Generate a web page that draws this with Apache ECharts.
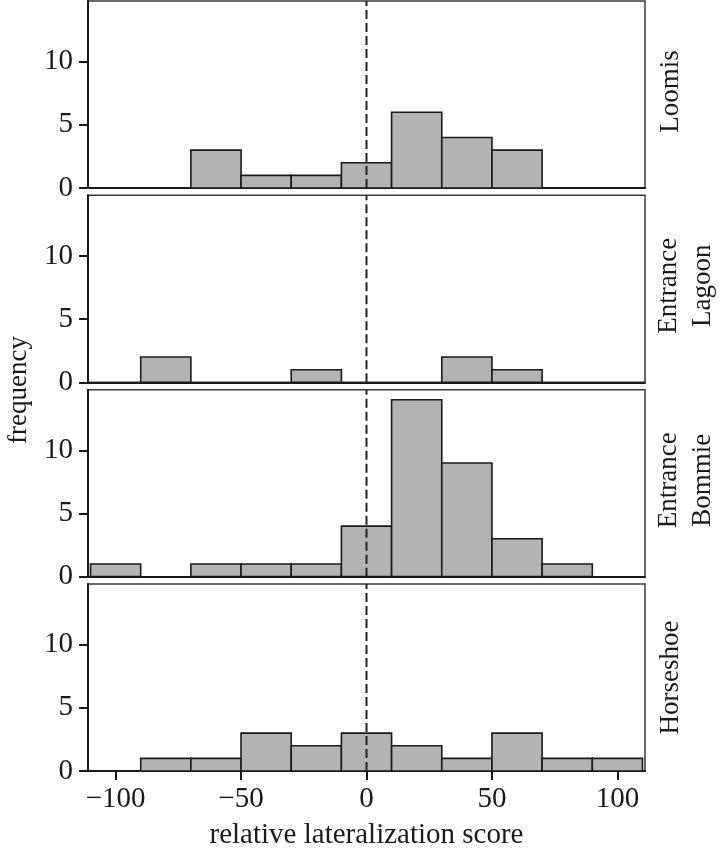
<!DOCTYPE html>
<html><head><meta charset="utf-8">
<script src="https://cdn.jsdelivr.net/npm/echarts@6/dist/echarts.min.js"></script>
<style>html,body{margin:0;padding:0;background:#fff}#c{width:722px;height:856px}</style>
</head><body><div id="c"></div>
<script>
// bins of width 20 starting at these edges
const binStarts = [-110, -90, -70, -50, -30, -10, 10, 30, 50, 70, 90];
const binWidth = 20;
const siteNames = ['Loomis', 'Entrance\nLagoon', 'Entrance\nBommie', 'Horseshoe'];
const loomis         = [0, 0, 3, 1, 1, 2, 6, 4, 3, 0, 0];
const entranceLagoon = [0, 2, 0, 0, 1, 0, 0, 2, 1, 0, 0];
const entranceBommie = [1, 0, 1, 1, 1, 4, 14, 9, 3, 1, 0];
const horseshoe      = [0, 1, 1, 3, 2, 3, 2, 1, 3, 1, 1];
const xTicks = [-100, -50, 0, 50, 100];
const yTicks = [0, 5, 10];
const xMin = -111, xMax = 111, yMax = 14.8;
const refLine = 0;

const counts = [loomis, entranceLagoon, entranceBommie, horseshoe];
const FONT = 'Liberation Serif';
const FS = 29;   // horizontal text
const FSV = 27;  // vertical text
const TXT = '#1a1a1a';

const chart = echarts.init(document.getElementById('c'));
const grids = [], xAxes = [], yAxes = [], series = [], graphics = [];
const gTop = 1, gH = 187, gStep = 194.33, gLeft = 88, gW = 557;

counts.forEach((arr, i) => {
  const top = gTop + i * gStep;
  grids.push({left: gLeft, width: gW, top: top, height: gH, show: true,
    borderColor: '#3a3a3a', borderWidth: 1.5, backgroundColor: '#fff'});
  const last = i === counts.length - 1;
  xAxes.push({
    type: 'value', gridIndex: i, min: xMin, max: xMax,
    axisLine: {show: true, onZero: false, lineStyle: {color: '#1a1a1a', width: 2}},
    axisTick: {show: last, length: 9, customValues: xTicks, lineStyle: {color: '#1a1a1a', width: 2}},
    axisLabel: {show: last, customValues: xTicks, margin: 14, fontFamily: FONT, fontSize: FS, color: TXT,
      formatter: v => String(v).replace('-', '\u2212')},
    splitLine: {show: false},
    name: last ? 'relative lateralization score' : '',
    nameLocation: 'middle', nameGap: 50,
    nameTextStyle: {fontFamily: FONT, fontSize: FS, color: TXT}
  });
  yAxes.push({
    type: 'value', gridIndex: i, min: 0, max: yMax,
    axisLine: {show: true, onZero: false, lineStyle: {color: '#1a1a1a', width: 2}},
    axisTick: {show: true, length: 9, customValues: yTicks, lineStyle: {color: '#1a1a1a', width: 2}},
    axisLabel: {show: true, customValues: yTicks, margin: 15, fontFamily: FONT, fontSize: FS, color: TXT},
    splitLine: {show: false}
  });
  const data = binStarts.map((s, k) => [s, s + binWidth, arr[k]]);
  series.push({
    type: 'custom', xAxisIndex: i, yAxisIndex: i, data: data,
    encode: {x: [0, 1], y: 2},
    renderItem: (params, api) => {
      const lo = api.value(0), hi = api.value(1), n = api.value(2);
      if (!n) return null;
      const p0 = api.coord([lo, n]);
      const p1 = api.coord([hi, 0]);
      return {type: 'rect',
        shape: {x: p0[0], y: p0[1], width: p1[0] - p0[0], height: p1[1] - p0[1]},
        style: {fill: '#b3b3b3', stroke: '#1a1a1a', lineWidth: 1.6}};
    },
    z: 2
  });
  series.push({
    type: 'line', xAxisIndex: i, yAxisIndex: i,
    data: [[refLine, 0], [refLine, yMax]], symbol: 'none', silent: true,
    lineStyle: {color: '#222', width: 2, type: [9, 4]}, z: 5
  });
  const twoLine = siteNames[i].indexOf('\n') >= 0;
  graphics.push({
    type: 'text', x: twoLine ? 686 : 671, y: top + gH / 2 - (i < 3 ? 3 : 0), rotation: Math.PI / 2,
    style: {text: siteNames[i], fontFamily: FONT, fontSize: FSV, fill: TXT,
      align: 'center', verticalAlign: 'middle', lineHeight: 34}
  });
});

graphics.push({
  type: 'text', x: 19, y: 390, rotation: Math.PI / 2,
  style: {text: 'frequency', fontFamily: FONT, fontSize: FSV, fill: TXT,
    align: 'center', verticalAlign: 'middle'}
});

chart.setOption({
  animation: false,
  backgroundColor: '#fff',
  grid: grids, xAxis: xAxes, yAxis: yAxes, series: series, graphic: graphics
});
</script></body></html>
